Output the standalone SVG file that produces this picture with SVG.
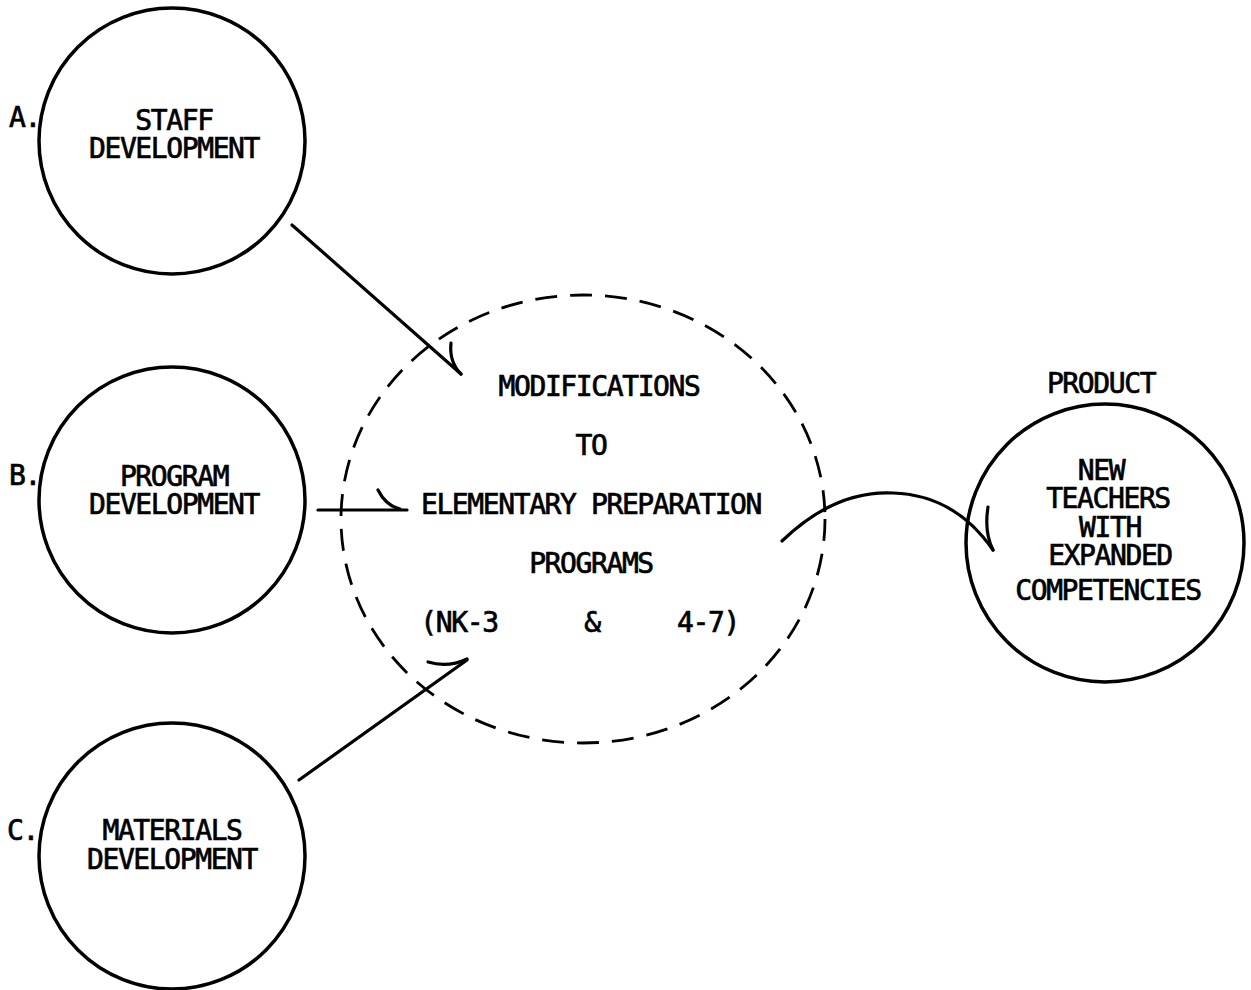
<svg xmlns="http://www.w3.org/2000/svg" width="1251" height="990" viewBox="0 0 1251 990">
<style>
.node{fill:none;stroke:#000;stroke-width:3.5}
.dash{fill:none;stroke:#000;stroke-width:2.8;stroke-dasharray:22 13}
.ln{fill:none;stroke:#000;stroke-width:3.2;stroke-linecap:round}
text{font-family:"DejaVu Sans Mono","Liberation Mono",monospace;font-size:28px;letter-spacing:-1.4px;fill:#000;stroke:#000;stroke-width:0.7;text-anchor:middle}
.l{text-anchor:start}
</style>
<rect width="1251" height="990" fill="#fff"/>
<g id="nodeA">
<circle class="node" cx="172" cy="141" r="133"/>
<text class="l" x="9" y="127">A.</text>
<text x="174" y="130">STAFF</text>
<text x="174" y="158">DEVELOPMENT</text>
</g>
<g id="nodeB">
<circle class="node" cx="172" cy="500" r="133"/>
<text class="l" x="9" y="485">B.</text>
<text x="174" y="486">PROGRAM</text>
<text x="174" y="514">DEVELOPMENT</text>
</g>
<g id="nodeC">
<circle class="node" cx="172" cy="856" r="133"/>
<text class="l" x="7" y="840">C.</text>
<text x="172" y="840">MATERIALS</text>
<text x="172" y="869">DEVELOPMENT</text>
</g>
<g id="center">
<ellipse class="dash" cx="583" cy="519" rx="242" ry="224"/>
<text x="599" y="396">MODIFICATIONS</text>
<text x="591" y="455">TO</text>
<text x="591" y="514">ELEMENTARY PREPARATION</text>
<text x="591" y="573">PROGRAMS</text>
<text x="459" y="632">(NK-3</text>
<text x="592" y="632">&amp;</text>
<text x="708" y="632">4-7)</text>
</g>
<g id="product">
<circle class="node" cx="1105" cy="543" r="139"/>
<text x="1101" y="393">PRODUCT</text>
<text x="1101" y="480">NEW</text>
<text x="1108" y="508">TEACHERS</text>
<text x="1110" y="537">WITH</text>
<text x="1110" y="565">EXPANDED</text>
<text x="1108" y="600">COMPETENCIES</text>
</g>
<g id="connectors">
<path class="ln" d="M292 225 L461 374"/>
<path class="ln" d="M451 343 Q449 362 461 374"/>
<path class="ln" d="M318 510 L407 510"/>
<path class="ln" d="M378 490 Q386 506 400 509"/>
<path class="ln" d="M299 780 L467 660"/>
<path class="ln" d="M428 662 Q448 668 467 659"/>
<path class="ln" d="M782 541 Q835 490 893 493 Q955 495 993 550"/>
<path class="ln" d="M988 507 Q984 532 993 550"/>
</g>
</svg>
